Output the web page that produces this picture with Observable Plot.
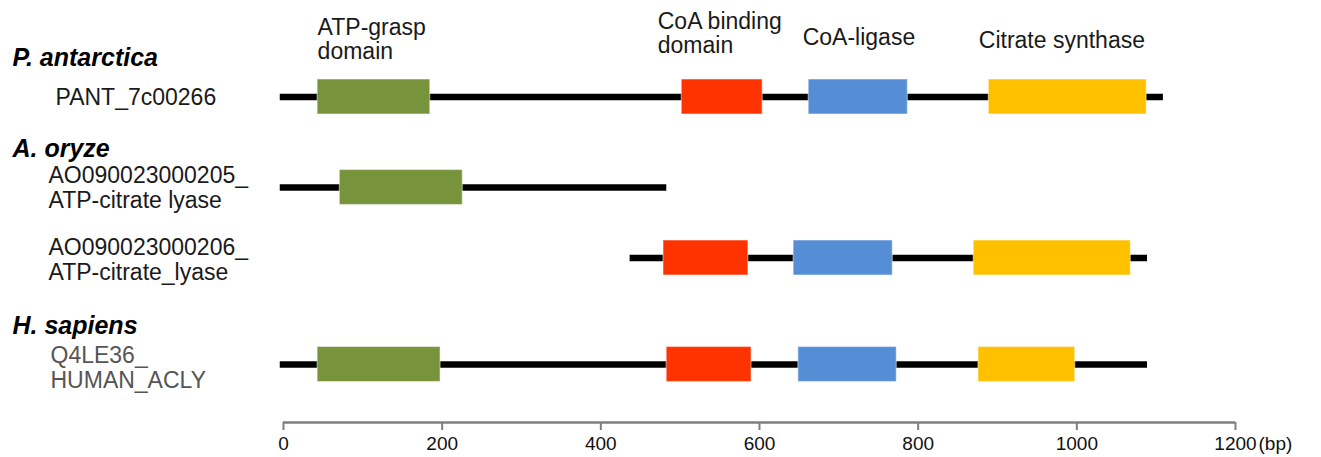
<!DOCTYPE html>
<html>
<head>
<meta charset="utf-8">
<script src="https://cdn.jsdelivr.net/npm/d3@7"></script>
<script src="https://cdn.jsdelivr.net/npm/@observablehq/plot@0.6"></script>
<style>
  html, body { margin: 0; padding: 0; background: #fff; }
  #chart { width: 1321px; height: 457px; overflow: hidden; }
  svg { overflow: visible; }
</style>
</head>
<body>
<div id="chart"></div>
<script>
// ---- data ----
const species = ["P. antarctica", "A. oryze", "H. sapiens"];
const speciesFirstProtein = [0, 1, 3];

const proteinLabels = ["PANT_7c00266", "AO090023000205_\nATP-citrate lyase", "AO090023000206_\nATP-citrate_lyase", "Q4LE36_\nHUMAN_ACLY"];
const proteinStart = [0, 0, 441, 0];
const proteinEnd = [1105, 479, 1085, 1085];

const domainNames = ["ATP-grasp\ndomain", "CoA binding\ndomain", "CoA-ligase", "Citrate synthase"];
const domainColors = ["#77933C", "#FF3300", "#558ED5", "#FFC000"];
const domainProtein = [0, 0, 0, 0, 1, 2, 2, 2, 3, 3, 3, 3];
const domainType    = [0, 1, 2, 3, 0, 1, 2, 3, 0, 1, 2, 3];
const domainStart   = [43, 502, 662, 889, 71, 479, 643, 870, 43, 483, 649, 876];
const domainEnd     = [185, 604, 787, 1088, 226, 586, 768, 1068, 198, 590, 773, 998];

const xTicks = [0, 200, 400, 600, 800, 1000, 1200];
const axisUnit = "(bp)";

// ---- build ----
const AXIS_ROW = proteinLabels.length; // row index used for the scale bar
const proteinIdx = d3.range(proteinLabels.length);
const domainIdx = d3.range(domainStart.length);
const font = "'Liberation Sans', Arial, sans-serif";

// text offsets (styling)
const labelDx = [-228, -235, -235, -233];
const labelDy = [0, 0, 1, 2.5];
const labelColor = ["#1a1a1a", "#1a1a1a", "#1a1a1a", "#555555"];
const titleDx = [0, -24, -6, -10];
const titleDy = [-58, -64, -59.5, -56.5];

const labelMarks = proteinIdx.map(i =>
  Plot.text([i], {
    x: () => 0, y: d => d, text: d => proteinLabels[d],
    dx: labelDx[i], dy: labelDy[i],
    textAnchor: "start", lineAnchor: "middle", lineHeight: 1.09,
    fontSize: 23, fill: labelColor[i], fontFamily: font
  })
);

const headerMarks = species.map((s, k) =>
  Plot.text([k], {
    x: () => 0, y: d => speciesFirstProtein[d], text: d => species[d],
    dx: -271, dy: -39,
    textAnchor: "start", lineAnchor: "middle",
    fontSize: 25, fontWeight: "bold", fontStyle: "italic", fill: "#000", fontFamily: font
  })
);

const titleMarks = domainNames.map((n, t) =>
  Plot.text([t], {
    x: d => domainStart[domainIdx.find(i => domainProtein[i] === 0 && domainType[i] === d)],
    y: () => 0, text: d => domainNames[d],
    dx: titleDx[t], dy: titleDy[t],
    textAnchor: "start", lineAnchor: "middle", lineHeight: 1.05,
    fontSize: 23, fill: "#1a1a1a", fontFamily: font
  })
);

const plot = Plot.plot({
  width: 1321,
  height: 457,
  marginLeft: 283,
  marginRight: 86,
  marginTop: 0,
  marginBottom: 35,
  style: { fontFamily: font, fontSize: "19px", color: "#000", background: "#fff", overflow: "visible" },
  x: { domain: [0, 1200], axis: null },
  y: { type: "linear", domain: [0, 1, 2, 3, 4], range: [96.5, 187, 257.5, 364, 422], axis: null },
  marks: [
    // scale bar: baseline, ticks, tick labels, unit
    Plot.ruleY([AXIS_ROW], { y: d => d, x1: 0, x2: 1200, stroke: "#7f7f7f", strokeWidth: 2.5 }),
    Plot.ruleX(xTicks, { x: d => d, y1: () => AXIS_ROW, y2: () => AXIS_ROW, insetBottom: -8, stroke: "#7f7f7f", strokeWidth: 2 }),
    Plot.text(xTicks, {
      x: d => d, y: () => AXIS_ROW, text: d => `${d}`, dy: 21,
      textAnchor: "middle", lineAnchor: "middle", fontSize: 19, fill: "#111", fontFamily: font
    }),
    Plot.text([axisUnit], {
      x: () => 1200, y: () => AXIS_ROW, text: d => d,
      dx: 23, dy: 21, textAnchor: "start", lineAnchor: "middle",
      fontSize: 19, fill: "#111", fontFamily: font
    }),
    // protein backbones
    Plot.ruleY(proteinIdx, {
      y: i => i, x1: i => proteinStart[i], x2: i => proteinEnd[i],
      stroke: "#000", strokeWidth: 6.5, strokeLinecap: "square"
    }),
    // domains
    Plot.rect(domainIdx, {
      x1: i => domainStart[i], x2: i => domainEnd[i],
      y1: i => domainProtein[i], y2: i => domainProtein[i],
      insetTop: -17.5, insetBottom: -17.5,
      fill: i => domainColors[domainType[i]],
      stroke: "#ffffff", strokeOpacity: 0.45, strokeWidth: 1.2
    }),
    ...titleMarks,
    ...headerMarks,
    ...labelMarks
  ]
});
document.getElementById("chart").appendChild(plot);
</script>
</body>
</html>
